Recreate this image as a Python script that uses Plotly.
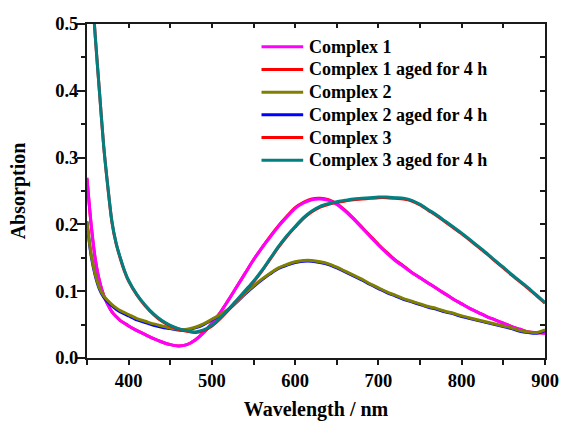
import plotly.graph_objects as go

# Wavelength grid (nm)
wavelength = [350, 355, 360, 365, 370, 375, 380, 385, 390, 395, 400, 410, 420, 430, 440,
              450, 460, 470, 480, 490, 500, 510, 520, 530, 540, 550, 560, 570, 580, 590,
              600, 610, 620, 630, 640, 650, 660, 670, 680, 690, 700, 710, 720, 730,
              740, 750, 760, 770, 780, 790, 800, 810, 820, 830, 840, 850, 860, 870,
              880, 890, 900]

complex1 = [0.270, 0.200, 0.148, 0.115, 0.094, 0.080, 0.069, 0.062, 0.056, 0.052,
            0.048, 0.041, 0.035, 0.029, 0.024, 0.020, 0.018, 0.020, 0.027, 0.038,
            0.052, 0.068, 0.087, 0.107, 0.127, 0.147, 0.165, 0.181, 0.197, 0.211,
            0.224, 0.232, 0.237, 0.238, 0.236, 0.230, 0.220, 0.208, 0.195, 0.182,
            0.169, 0.157, 0.146, 0.137, 0.128, 0.120, 0.112, 0.104, 0.096, 0.088,
            0.081, 0.074, 0.068, 0.062, 0.057, 0.052, 0.047, 0.043, 0.039, 0.038,
            0.037]

complex1_aged = [0.268, 0.199, 0.147, 0.115, 0.094, 0.080, 0.069, 0.062, 0.056, 0.052,
                 0.048, 0.041, 0.035, 0.029, 0.024, 0.020, 0.018, 0.020, 0.027, 0.038,
                 0.052, 0.068, 0.087, 0.107, 0.127, 0.147, 0.165, 0.182, 0.198, 0.212,
                 0.225, 0.233, 0.238, 0.239, 0.237, 0.231, 0.221, 0.209, 0.196, 0.183,
                 0.170, 0.158, 0.147, 0.138, 0.128, 0.120, 0.112, 0.104, 0.096, 0.088,
                 0.081, 0.074, 0.068, 0.062, 0.057, 0.052, 0.047, 0.043, 0.039, 0.038,
                 0.037]

complex2 = [0.205, 0.155, 0.125, 0.105, 0.093, 0.086, 0.080, 0.075, 0.071, 0.068,
            0.065, 0.059, 0.055, 0.051, 0.048, 0.045, 0.043, 0.043, 0.046, 0.051,
            0.058, 0.065, 0.073, 0.084, 0.097, 0.108, 0.118, 0.127, 0.135, 0.140,
            0.144, 0.146, 0.146, 0.144, 0.141, 0.136, 0.130, 0.124, 0.118, 0.111,
            0.105, 0.099, 0.094, 0.089, 0.085, 0.081, 0.077, 0.074, 0.070, 0.067,
            0.063, 0.060, 0.057, 0.054, 0.051, 0.048, 0.045, 0.041, 0.039, 0.038,
            0.042]

complex2_aged = [0.203, 0.153, 0.123, 0.103, 0.091, 0.084, 0.078, 0.073, 0.069, 0.066,
                 0.063, 0.057, 0.053, 0.049, 0.046, 0.044, 0.042, 0.042, 0.045, 0.050,
                 0.057, 0.064, 0.073, 0.084, 0.096, 0.107, 0.117, 0.126, 0.134, 0.139,
                 0.143, 0.145, 0.145, 0.143, 0.140, 0.135, 0.129, 0.123, 0.117, 0.110,
                 0.104, 0.098, 0.093, 0.088, 0.084, 0.080, 0.076, 0.073, 0.069, 0.066,
                 0.062, 0.059, 0.056, 0.053, 0.050, 0.047, 0.044, 0.040, 0.038, 0.037,
                 0.041]

complex3 = [0.660, 0.570, 0.480, 0.398, 0.318, 0.256, 0.203, 0.171, 0.149, 0.130,
            0.115, 0.094, 0.078, 0.065, 0.055, 0.048, 0.043, 0.040, 0.038, 0.041,
            0.048, 0.059, 0.072, 0.086, 0.100, 0.114, 0.130, 0.148, 0.166, 0.182,
            0.196, 0.209, 0.219, 0.226, 0.230, 0.233, 0.235, 0.237, 0.238, 0.239,
            0.240, 0.240, 0.239, 0.238, 0.235, 0.229, 0.221, 0.213, 0.204, 0.195,
            0.186, 0.176, 0.166, 0.156, 0.145, 0.135, 0.124, 0.114, 0.104, 0.093,
            0.082]

complex3_aged = [0.660, 0.570, 0.480, 0.398, 0.318, 0.257, 0.204, 0.172, 0.150, 0.131,
                 0.116, 0.095, 0.079, 0.066, 0.056, 0.049, 0.044, 0.041, 0.039, 0.042,
                 0.049, 0.060, 0.073, 0.087, 0.101, 0.115, 0.131, 0.149, 0.167, 0.183,
                 0.197, 0.210, 0.220, 0.227, 0.231, 0.234, 0.236, 0.238, 0.239, 0.240,
                 0.241, 0.241, 0.240, 0.239, 0.236, 0.230, 0.222, 0.214, 0.205, 0.196,
                 0.187, 0.177, 0.167, 0.157, 0.146, 0.136, 0.125, 0.115, 0.105, 0.094,
                 0.083]

# (name, values, colour) in legend order
series = [
    ("Complex 1", complex1, "#FF00FF"),
    ("Complex 1 aged for 4 h", complex1_aged, "#FF0000"),
    ("Complex 2", complex2, "#808000"),
    ("Complex 2 aged for 4 h", complex2_aged, "#0000FF"),
    ("Complex 3", complex3, "#FF0000"),
    ("Complex 3 aged for 4 h", complex3_aged, "#008080"),
]
# drawing order: the aged traces of complexes 1 and 2 go underneath their fresh ones
draw_order = [1, 0, 3, 2, 4, 5]

FONT = "Liberation Serif, Times New Roman, serif"
AXIS_COLOR = "#1a1a1a"

fig = go.Figure()
for i in draw_order:
    name, vals, color = series[i]
    fig.add_trace(go.Scatter(
        x=wavelength, y=vals, name=name, mode="lines",
        line=dict(color=color, width=3, shape="spline", smoothing=0.8),
        showlegend=False,
    ))

# invisible helper trace to carry the top / right tick axes
fig.add_trace(go.Scatter(x=[350, 900], y=[0, 0.5], xaxis="x2", yaxis="y2",
                         mode="none", showlegend=False, hoverinfo="skip"))

# key drawn as line samples + labels inside the plot area (paper coordinates)
key_x0, key_x1, key_text_x = 0.381, 0.472, 0.481
key_top, key_step = 0.932, 0.068
for row, (name, _, color) in enumerate(series):
    yy = key_top - row * key_step
    fig.add_shape(type="line", xref="paper", yref="paper",
                  x0=key_x0, x1=key_x1, y0=yy, y1=yy,
                  line=dict(color=color, width=3))
    fig.add_annotation(text=name, xref="paper", yref="paper", x=key_text_x, y=yy,
                       xanchor="left", yanchor="middle", showarrow=False,
                       font=dict(family=FONT, size=18, color="black", weight="bold"))

fig.update_layout(
    width=561, height=421,
    margin=dict(l=87, r=16, t=24, b=63, autoexpand=False),
    paper_bgcolor="white", plot_bgcolor="white",
    font=dict(family=FONT, color="black", weight="bold"),
    showlegend=False,
    xaxis=dict(
        range=[350, 900], showgrid=False, zeroline=False, automargin=False,
        showline=True, linecolor=AXIS_COLOR, linewidth=2,
        ticks="outside", ticklen=5, tickwidth=1.5, tickcolor=AXIS_COLOR,
        tick0=400, dtick=100,
        minor=dict(ticks="outside", ticklen=5, tickwidth=1.5, tickcolor=AXIS_COLOR,
                   dtick=50, tick0=350, showgrid=False),
        tickfont=dict(family=FONT, size=18.5, color="black", weight="bold"),
        title=dict(text="Wavelength / nm", standoff=16,
                   font=dict(family=FONT, size=20, color="black", weight="bold")),
    ),
    yaxis=dict(
        range=[0, 0.5], showgrid=False, zeroline=False, automargin=False,
        showline=True, linecolor=AXIS_COLOR, linewidth=2,
        ticks="outside", ticklen=8, tickwidth=1.5, tickcolor=AXIS_COLOR,
        tick0=0, dtick=0.1, tickformat=".1f", ticklabelstandoff=-5,
        minor=dict(ticks="outside", ticklen=4, tickwidth=1.5, tickcolor=AXIS_COLOR,
                   dtick=0.05, showgrid=False),
        tickfont=dict(family=FONT, size=18.5, color="black", weight="bold"),
        title=dict(text="Absorption", standoff=24,
                   font=dict(family=FONT, size=20, color="black", weight="bold")),
    ),
    xaxis2=dict(
        overlaying="x", side="top", range=[350, 900], showgrid=False, zeroline=False,
        showline=True, linecolor=AXIS_COLOR, linewidth=2, automargin=False,
        ticks="inside", ticklen=4, tickwidth=1.5, tickcolor=AXIS_COLOR,
        tick0=350, dtick=50, showticklabels=False,
    ),
    yaxis2=dict(
        overlaying="y", side="right", range=[0, 0.5], showgrid=False, zeroline=False,
        showline=True, linecolor=AXIS_COLOR, linewidth=2, automargin=False,
        ticks="inside", ticklen=5, tickwidth=1.5, tickcolor=AXIS_COLOR,
        tick0=0, dtick=0.05, showticklabels=False,
    ),
)

fig.write_html("out.html")
